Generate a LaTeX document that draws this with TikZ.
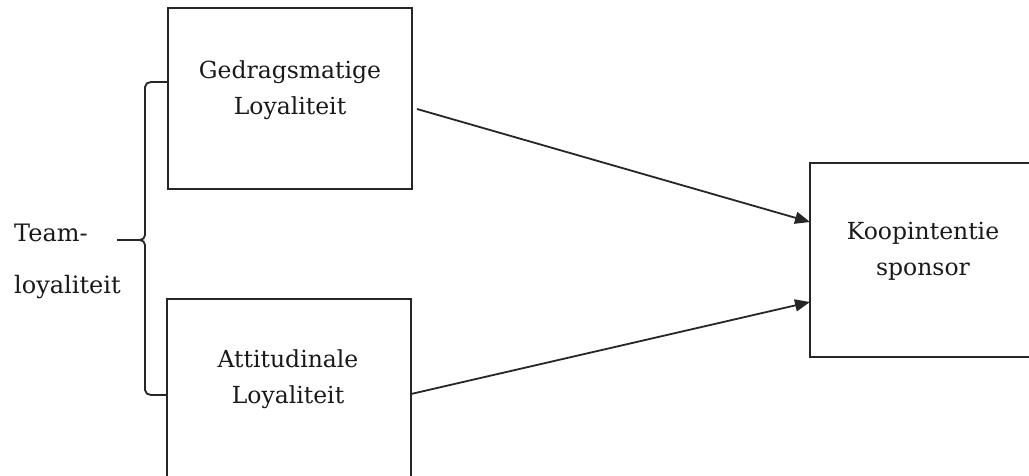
\documentclass[tikz,border=0pt]{standalone}
\usepackage{fontspec}
\setmainfont{DejaVu Serif}
\usetikzlibrary{arrows.meta,calc}
\begin{document}
\begin{tikzpicture}[x=1pt,y=-1pt,
  ln/.style={line width=1.8pt,draw=black!85},
  box/.style={ln,rectangle,inner sep=0pt,outer sep=0pt},
  txt/.style={align=center,inner sep=0pt,text=black!90,font=\fontsize{23.5}{36}\selectfont},
  lbl/.style={inner sep=0pt,text=black!90,font=\fontsize{24}{28}\selectfont},
  arr/.style={ln,-{Triangle[length=15pt,width=12pt]}}]
\useasboundingbox (0,0) rectangle (1029,476);
\clip (0,0) rectangle (1029,476);
\node[box,minimum width=244pt,minimum height=181pt] (b1) at (290,98.5) {};
\node[box,minimum width=244pt,minimum height=200pt] (b2) at (289,399) {};
\node[box,minimum width=240pt,minimum height=194pt] (b3) at (930,260) {};
\node[txt] (t1) at (290,90) {Gedragsmatige\\Loyaliteit};
\node[txt] (t2) at (288,379) {Attitudinale\\Loyaliteit};
\node[txt] (t3) at (923,251) {Koopintentie\\sponsor};
\node[lbl,anchor=west] (team) at (14,233) {Team-};
\node[lbl,anchor=west] (loy) at (14,287) {loyaliteit};
\coordinate (tip) at (140,240);
\coordinate (tl) at (117,240);
\draw[ln] (b1.west |- 0,82) -- (151,82) to[out=180,in=90] (145,87) -- (145,235)
  to[out=-90,in=0] (tip) to[out=0,in=90] (145,245) -- (145,390)
  to[out=-90,in=180] (151,395) -- (b2.west |- 0,395);
\draw[ln] (tl) -- (tip);
\draw[arr] ($(b1.east |- 0,109)+(5,0)$) -- (b3.west |- 0,222);
\draw[arr] (b2.east |- 0,394) -- (b3.west |- 0,302);
\end{tikzpicture}
\end{document}
